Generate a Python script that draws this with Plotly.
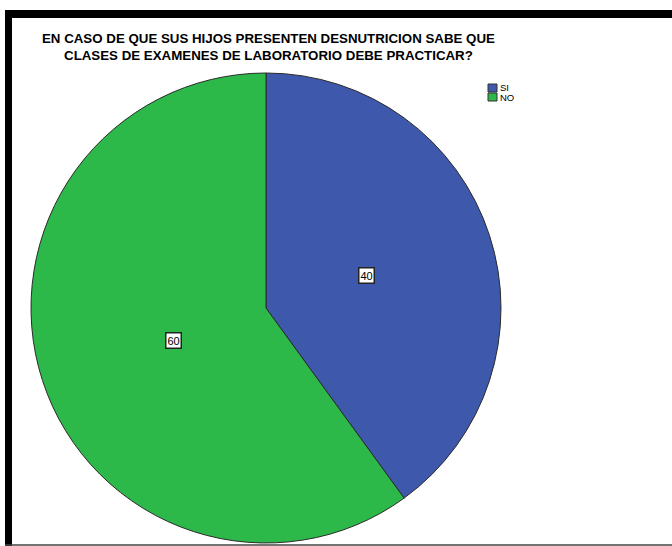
import math
import plotly.graph_objects as go

# Answers to the survey question and their counts (percent)
categories = ["SI", "NO"]
values = [40, 60]
slice_colors = ["#3E58AC", "#2DB84A"]

title_text = ("EN CASO DE QUE SUS HIJOS PRESENTEN DESNUTRICION SABE QUE<br>"
              "CLASES DE EXAMENES DE LABORATORIO DEBE PRACTICAR?")

W, H = 672, 546
# pie placement in pixels (left, top, size)
pie_left, pie_top, pie_size = 31, 73, 470

dom_x = [pie_left / W, (pie_left + pie_size) / W]
dom_y = [1 - (pie_top + pie_size) / H, 1 - pie_top / H]

fig = go.Figure()
fig.add_trace(go.Pie(
    labels=categories,
    values=values,
    sort=False,
    direction="clockwise",
    rotation=0,
    marker=dict(colors=slice_colors, line=dict(color="#2a2a2a", width=1)),
    textinfo="none",
    hoverinfo="label+value",
    showlegend=False,
    domain=dict(x=dom_x, y=dom_y),
))

# value boxes placed along each slice's mid-angle
cx = (dom_x[0] + dom_x[1]) / 2
cy = (dom_y[0] + dom_y[1]) / 2
rx = (dom_x[1] - dom_x[0]) / 2
ry = (dom_y[1] - dom_y[0]) / 2
total = sum(values)
start = 0.0
annotations = []
for v in values:
    mid = (start + v / 2) / total * 2 * math.pi
    start += v
    f = 0.45
    annotations.append(dict(
        x=cx + f * rx * math.sin(mid), y=cy + f * ry * math.cos(mid),
        xref="paper", yref="paper", text=str(v), showarrow=False,
        font=dict(family="Liberation Sans, Arial", size=11, color="black"),
        bgcolor="white", bordercolor="#222222", borderwidth=1.5, borderpad=1,
    ))

# two-line title
annotations.append(dict(
    x=268 / W, y=1 - 47 / H, xref="paper", yref="paper",
    xanchor="center", yanchor="middle", text=title_text, showarrow=False,
    font=dict(family="Liberation Sans, Arial", size=13.3, color="black",
              weight="bold"),
))

# compact legend: small swatches with labels
shapes = []
for i, (lab, col) in enumerate(zip(categories, slice_colors)):
    top = 84 + 9 * i
    shapes.append(dict(type="rect", xref="paper", yref="paper",
                       x0=488 / W, x1=497 / W, y0=1 - (top + 8) / H, y1=1 - top / H,
                       fillcolor=col, line=dict(color="#333333", width=1)))
    annotations.append(dict(
        x=498 / W, y=1 - (top + 4) / H, xref="paper", yref="paper",
        xanchor="left", yanchor="middle", text=lab, showarrow=False,
        font=dict(family="Liberation Sans, Arial", size=9.5, color="black"),
    ))

# outer frame: heavy top and left rules, thin bottom rule
shapes += [
    dict(type="rect", xref="paper", yref="paper",
         x0=5 / W, x1=1, y0=1 - 18 / H, y1=1 - 10 / H,
         fillcolor="black", line=dict(width=0)),
    dict(type="rect", xref="paper", yref="paper",
         x0=5 / W, x1=12 / W, y0=0, y1=1 - 10 / H,
         fillcolor="black", line=dict(width=0)),
    dict(type="line", xref="paper", yref="paper",
         x0=5 / W, x1=1, y0=1 / H, y1=1 / H,
         line=dict(color="#444444", width=1.5)),
]

fig.update_layout(
    width=W, height=H,
    margin=dict(l=0, r=0, t=0, b=0),
    paper_bgcolor="white",
    plot_bgcolor="white",
    showlegend=False,
    annotations=annotations,
    shapes=shapes,
)

fig.write_html("out.html")
